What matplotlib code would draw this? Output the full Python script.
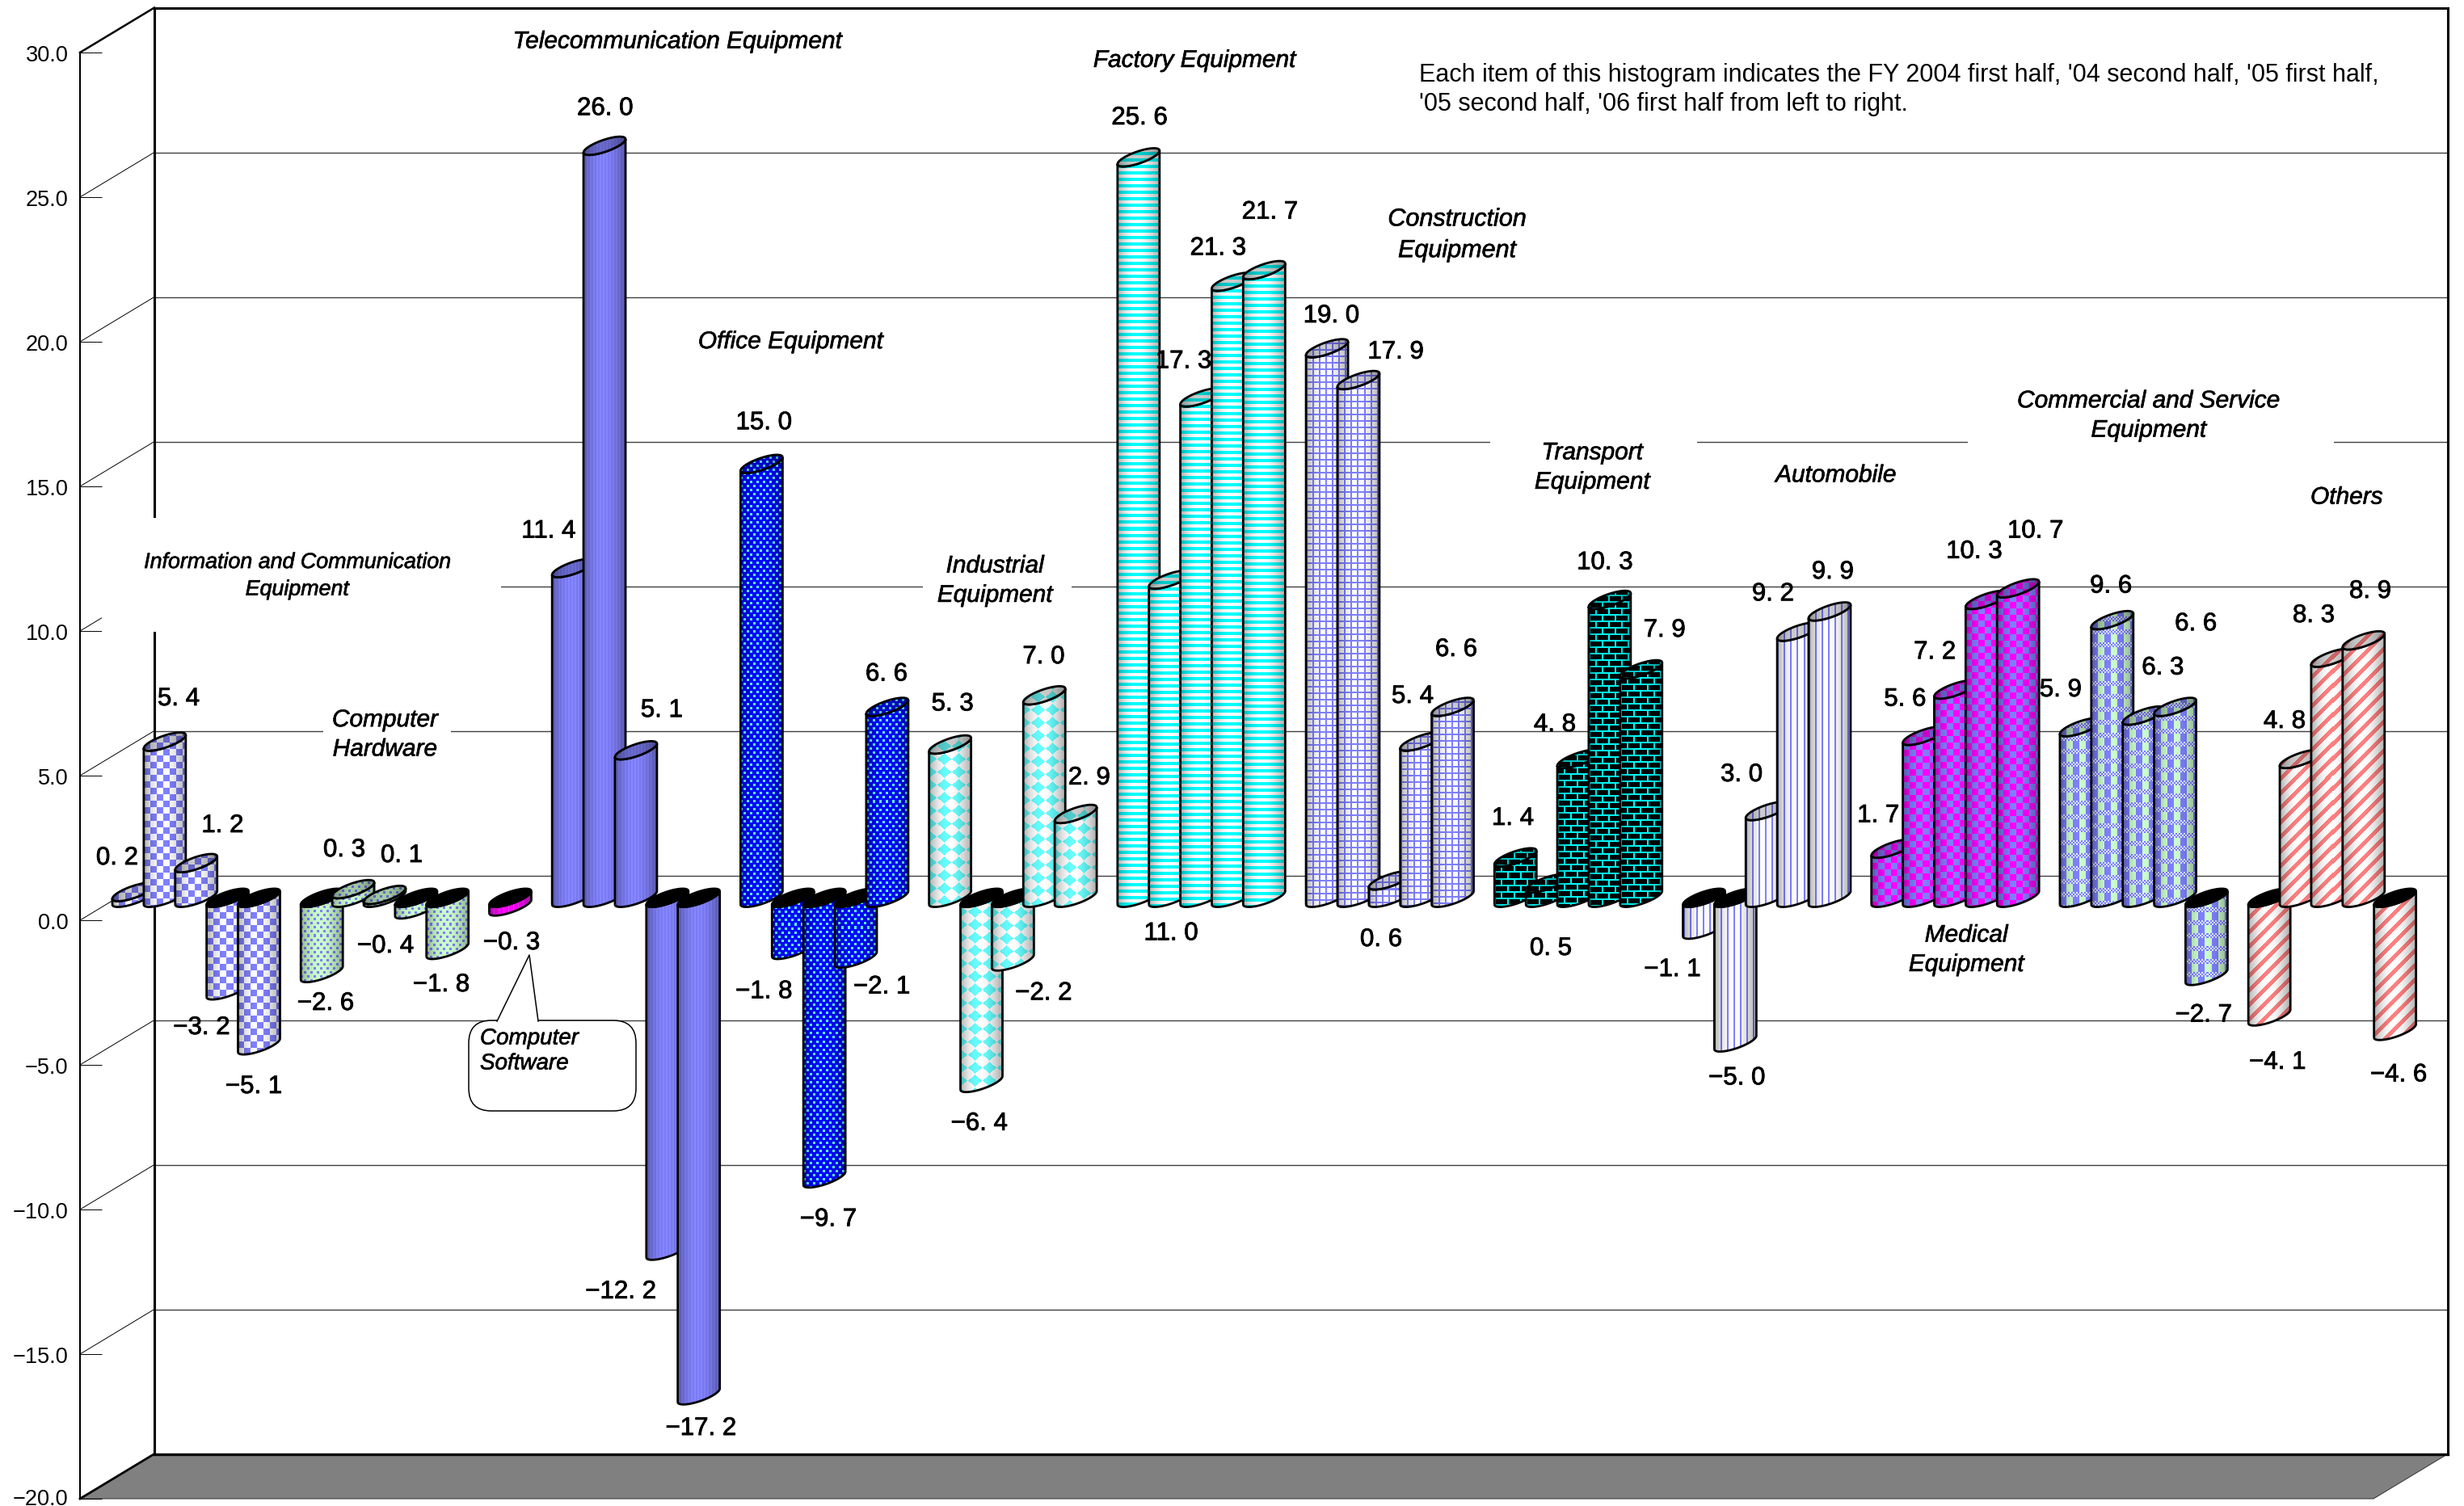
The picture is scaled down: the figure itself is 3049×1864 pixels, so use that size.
import numpy as np
import matplotlib
matplotlib.use("Agg")
import matplotlib.pyplot as plt
import matplotlib.patheffects as pe
from matplotlib.path import Path
from matplotlib.patches import PathPatch, Rectangle, Polygon, FancyBboxPatch
from matplotlib.transforms import Affine2D
from matplotlib.ticker import FuncFormatter

# ---------- data ----------
info_values = [0.2, 5.4, 1.2, -3.2, -5.1]
hardware_values = [-2.6, 0.3, 0.1, -0.4, -1.8]
software_values = [-0.3]
telecom_values = [11.4, 26.0, 5.1, -12.2, -17.2]
office_values = [15.0, -1.8, -9.7, -2.1, 6.6]
industrial_values = [5.3, -6.4, -2.2, 7.0, 2.9]
factory_values = [25.6, 11.0, 17.3, 21.3, 21.7]
construction_values = [19.0, 17.9, 0.6, 5.4, 6.6]
transport_values = [1.4, 0.5, 4.8, 10.3, 7.9]
automobile_values = [-1.1, -5.0, 3.0, 9.2, 9.9]
medical_values = [1.7, 5.6, 7.2, 10.3, 10.7]
commercial_values = [5.9, 9.6, 6.3, 6.6, -2.7]
others_values = [-4.1, 4.8, 8.3, 8.9, -4.6]

y_ticks = [-20, -15, -10, -5, 0, 5, 10, 15, 20, 25, 30]
note_text = ("Each item of this histogram indicates the FY 2004 first half, '04 second half, '05 first half,\n"
             "'05 second half, '06 first half from left to right.")

# ---------- layout (pixels of the 3049x1865 canvas) ----------
W, H = 3049, 1865
FRONT_L, BACK_L, BACK_R = 99.0, 191.0, 3029.0
Y_TOP, Y_BOT = 66.0, 1856.0
SLOT0, PITCH, BAR_W = 139.0, 38.87, 52.0
PX_UNIT = (Y_BOT - Y_TOP) / 50.0
DEPTH_X, DEPTH_Y = BACK_L - FRONT_L, 55.5
ELL_B, ELL_C = 8.3, 7.7
pxt = Affine2D().scale(1, -1).translate(0, H)
heavy = [pe.withStroke(linewidth=0.6, foreground="black")]
heavy_cap = [pe.withStroke(linewidth=0.45, foreground="black")]

fig = plt.figure(figsize=(W / 100, H / 100), dpi=100, facecolor="white")
ax = fig.add_axes([FRONT_L / W, 1 - Y_BOT / H, (BACK_R - FRONT_L) / W, (Y_BOT - Y_TOP) / H])
ax.patch.set_alpha(0)
ax.set_autoscale_on(False)
ax.set_xlim((FRONT_L - SLOT0) / PITCH, (BACK_R - SLOT0) / PITCH)
ax.set_ylim(-20, 30)
for s in ("top", "right", "bottom"):
    ax.spines[s].set_visible(False)
ax.spines["left"].set_linewidth(1.5)
ax.xaxis.set_visible(False)
ax.set_yticks(y_ticks)
ax.yaxis.set_major_formatter(FuncFormatter(lambda v, _: f"{v:.1f}".replace("-", "\u2212")))
ax.tick_params(axis="y", direction="in", length=19.4, width=0.7, pad=10.5, labelsize=19.5)
for lab in ax.get_yticklabels():
    lab.set_fontfamily("Liberation Sans")
first_tick = ax.yaxis.get_major_ticks()[0]
first_tick.label1.set_transform(first_tick.label1.get_transform() + Affine2D().translate(0, 3))

xmin = ax.get_xlim()[0]
dx_u = DEPTH_X / PITCH
dy_u = DEPTH_Y / PX_UNIT
xb_l, xb_r = xmin + dx_u, ax.get_xlim()[1]

# floor
ax.add_patch(Polygon([(xmin, -20), (xb_l, -20 + dy_u), (xb_r, -20 + dy_u), (xb_r - dx_u, -20)],
                     closed=True, fc="#808080", ec="#303030", lw=0.7, zorder=1, clip_on=False))
ax.plot([xmin, xb_l], [-20, -20 + dy_u], color="black", lw=2.0, zorder=2, clip_on=False)
# back wall grid
for t in y_ticks[1:-1]:
    ax.plot([xb_l, xb_r], [t + dy_u, t + dy_u], color="#404040", lw=1.0, zorder=2, clip_on=False)
for t in y_ticks[1:]:
    ax.plot([xmin, xb_l], [t, t + dy_u], color="black", lw=0.7 if t < 30 else 1.8, zorder=2, clip_on=False)
ax.plot([xb_l, xb_r], [30 + dy_u] * 2, color="black", lw=2.2, zorder=2, clip_on=False)
ax.plot([xb_l, xb_r], [-20 + dy_u] * 2, color="black", lw=2.4, zorder=2, clip_on=False)
ax.plot([xb_l, xb_l], [-20 + dy_u, 30 + dy_u], color="black", lw=2.2, zorder=2, clip_on=False)
ax.plot([xb_r, xb_r], [-20 + dy_u, 30 + dy_u], color="black", lw=2.2, zorder=2, clip_on=False)

# white boxes behind the category captions
white_boxes = [(126, 642, 620, 783), (400, 880, 558, 960), (1142, 690, 1326, 760),
               (1844, 520, 2100, 620), (2435, 480, 2888, 570)]
for x0, y0, x1, y1 in white_boxes:
    ax.add_patch(Rectangle((x0, y0), x1 - x0, y1 - y0, transform=pxt, fc="white", ec="none", zorder=3, clip_on=False))


# ---------- textures ----------
def rgb(h):
    return np.array(matplotlib.colors.to_rgb(h))


BLUE, WHITE, CYAN, MAG = rgb("#8080FF"), rgb("#FFFFFF"), rgb("#00FFFF"), rgb("#FF00FF")
PALE, SALMON = rgb("#CCFFCC"), rgb("#FF8080")


def two(mask, fg, bg):
    return np.where(mask[..., None], fg, bg)


def t_check(X, Y):
    return two(((X // 8) + (Y // 8)) % 2 == 0, BLUE, WHITE)


def t_hard(X, Y):
    row = Y // 5
    return two(((X + 4 * (row % 2)) % 8 < 3) & (Y % 5 < 3), BLUE, PALE)


def t_soft(X, Y):
    return two(X % 6 < 1, rgb("#E040E0"), MAG)


def t_tele(X, Y):
    return two(X % 4 < 2, rgb("#8888FF"), rgb("#7C7CFA"))


def t_office(X, Y):
    row = Y // 5
    return two(((X + 4 * (row % 2)) % 8 < 3) & (Y % 5 < 3), rgb("#66FFFF"), rgb("#0000FF"))


def t_ind(X, Y):
    a = np.abs(((X + 9) % 18) - 9) / 9.0 + np.abs(((Y + 8) % 16) - 8) / 8.0
    return two(a < 0.92, rgb("#66FFFF"), WHITE)


def t_fact(X, Y):
    return two(Y % 8 < 4, CYAN, WHITE)


def t_cons(X, Y):
    return two((X % 8 < 2) | (Y % 8 < 2), BLUE, WHITE)


def t_trans(X, Y):
    row = Y // 8
    line = (Y % 8 < 2) | ((X + 8 * (row % 2)) % 16 < 2)
    return two(line, CYAN, rgb("#000000"))


def t_auto(X, Y):
    return two(X % 8 < 2, BLUE, WHITE)


def t_med(X, Y):
    return two(((X // 8) + (Y // 8)) % 2 == 0, MAG, BLUE)


def t_comm(X, Y):
    coarse = two(X % 16 < 8, BLUE, PALE)
    fine = two(((X // 2) + (Y // 2)) % 2 == 0, BLUE, rgb("#DDEEFF"))
    return np.where((Y % 16 < 10)[..., None], coarse, fine)


def t_others(X, Y):
    return two((X + Y) % 18 < 7, SALMON, WHITE)


def texture(fn, wpx, hpx):
    Y, X = np.mgrid[0:hpx, 0:wpx]
    img = fn(X, Y).astype(float)
    u = (np.arange(wpx) + 0.5) / wpx
    shade = 0.68 + 0.32 * np.sin(np.pi * u ** 0.9)
    return img * shade[None, :, None]


# ---------- cylinders ----------
groups = [
    (info_values, 0, t_check), (hardware_values, 6, t_hard), (software_values, 12, t_soft),
    (telecom_values, 14, t_tele), (office_values, 20, t_office), (industrial_values, 26, t_ind),
    (factory_values, 32, t_fact), (construction_values, 38, t_cons), (transport_values, 44, t_trans),
    (automobile_values, 50, t_auto), (medical_values, 56, t_med), (commercial_values, 62, t_comm),
    (others_values, 68, t_others),
]
w_u = BAR_W / PITCH
base = dy_u / 2.0
B_u, C_u = ELL_B / PX_UNIT, ELL_C / PX_UNIT
tt = np.linspace(0, 2 * np.pi, 73)


def ellipse_xy(cx, cy, t):
    return cx + w_u / 2 * np.cos(t), cy + B_u * np.cos(t) + C_u * np.sin(t)


z = 10
for values, start, fn in groups:
    for k, v in enumerate(values):
        x0 = start + k
        cx = x0 + w_u / 2
        top, bot = max(v, 0) + base, min(v, 0) + base
        xl, yl = ellipse_xy(cx, bot, np.linspace(np.pi, 2 * np.pi, 37))
        xu, yu = ellipse_xy(cx, top, np.linspace(0, -np.pi, 37))
        verts = np.r_[np.c_[xl, yl], np.c_[xu, yu]]
        pad = 14 / PX_UNIT
        hpx = int(round((top - bot) * PX_UNIT + 28))
        tex = texture(fn, int(BAR_W), max(hpx, 2))
        ext = (x0, x0 + w_u, bot - pad, top + pad)
        body = PathPatch(Path(np.r_[verts, verts[:1]]), fc="none", ec="black", lw=2.0, zorder=z + 0.2)
        ax.add_patch(body)
        body.set_clip_on(False)
        im = ax.imshow(tex, extent=ext, aspect="auto", origin="upper", interpolation="nearest", zorder=z)
        im.set_clip_path(body)
        im.set_clip_box(fig.bbox)
        ex, ey = ellipse_xy(cx, top, tt)
        cap = PathPatch(Path(np.c_[ex, ey]), fc="black" if v < 0 else "none", ec="black", lw=2.0, zorder=z + 0.4)
        ax.add_patch(cap)
        cap.set_clip_on(False)
        if v >= 0:
            im2 = ax.imshow(tex * 0.8, extent=ext, aspect="auto", origin="upper", interpolation="nearest", zorder=z + 0.3)
            im2.set_clip_path(cap)
            im2.set_clip_box(fig.bbox)
        z += 1
ax.set_xlim((FRONT_L - SLOT0) / PITCH, (BACK_R - SLOT0) / PITCH)
ax.set_ylim(-20, 30)

# ---------- value labels ----------
S = 1.945
label_px = {
    0: [(145, 1060), (221, 863), (275.5, 1020), (249.5, 1270), (314, 1343)],
    6: [(403, 1240), (426, 1050), (497, 1057), (477, 1169), (546, 1217)],
    12: [(633, 1165)],
    14: [(349 * S, 337 * S), (385 * S, 68 * S), (421 * S, 451 * S), (395 * S, 821 * S), (446 * S, 908 * S)],
    20: [(486 * S, 268 * S), (486 * S, 630 * S), (527 * S, 775 * S), (561 * S, 627 * S), (564 * S, 428 * S)],
    26: [(606 * S, 447 * S), (623 * S, 714 * S), (664 * S, 631 * S), (664 * S, 417 * S), (693 * S, 494 * S)],
    32: [(725 * S, 74 * S), (745 * S, 593 * S), (753 * S, 229 * S), (775 * S, 157 * S), (808 * S, 134 * S)],
    38: [(847 * S, 200 * S), (888 * S, 223 * S), (1709, 1161), (1748, 860), (1802, 802)],
    44: [(1872, 1011), (1919, 1172), (1924, 895), (1021 * S, 357 * S), (1059 * S, 400 * S)],
    50: [(1064 * S, 616 * S), (1105 * S, 685 * S), (1108 * S, 492 * S), (1128 * S, 377 * S), (1166 * S, 363 * S)],
    56: [(1195 * S, 518 * S), (1212 * S, 444 * S), (1231 * S, 414 * S), (1256 * S, 350 * S), (1295 * S, 337 * S)],
    62: [(1311 * S, 438 * S), (1343 * S, 372 * S), (1376 * S, 424 * S), (1397 * S, 396 * S), (1402 * S, 645 * S)],
    68: [(1449 * S, 675 * S), (2827, 891), (2863, 760), (2933, 730), (1526 * S, 683 * S)],
}
for values, start, fn in groups:
    for v, (px, py) in zip(values, label_px[start]):
        s = f"{v:.1f}".replace(".", ". ").replace("-", "\u2212")
        ax.text(px, py + 3, s, transform=pxt, ha="center", va="center", fontsize=22.5,
                family="Liberation Sans", zorder=300, clip_on=False, path_effects=heavy)

# ---------- category captions ----------
captions = [
    ("Information and Communication\nEquipment", 189, 366, 19.3),
    ("Computer\nHardware", 245, 467, 21.5),
    ("Telecommunication Equipment", 431, 26, 21.5),
    ("Office Equipment", 503, 217, 21.5),
    ("Industrial\nEquipment", 633, 369, 21.5),
    ("Factory Equipment", 760, 38, 21.5),
    ("Construction\nEquipment", 927, 149, 22),
    ("Transport\nEquipment", 1013, 297, 21.5),
    ("Automobile", 1168, 302, 21.5),
    ("Medical\nEquipment", 1251, 604, 21.5),
    ("Commercial and Service\nEquipment", 1367, 264, 21.5),
    ("Others", 1493, 316, 21.5),
]
for s, px, py, fs in captions:
    ax.text(px * S, py * S + 2, s, transform=pxt, ha="center", va="center", ma="center", fontsize=fs,
            style="italic", family="Liberation Sans", zorder=300, clip_on=False, linespacing=1.38,
            path_effects=heavy_cap)

# callout for Computer Software
callout = FancyBboxPatch((590, 1274), 187, 92, boxstyle="round,pad=10,rounding_size=28", transform=pxt,
                         fc="white", ec="black", lw=1.1, zorder=280, clip_on=False)
ax.add_patch(callout)
ax.add_patch(Polygon([(615, 1265), (655, 1183), (666, 1265)], closed=True, transform=pxt, fc="white",
                     ec="none", zorder=281, clip_on=False))
ax.plot([615, 655, 666], [1265, 1183, 1265], transform=pxt, color="black", lw=1.1, zorder=282, clip_on=False)
ax.text(594, 1302, "Computer\nSoftware", transform=pxt, ha="left", va="center", fontsize=20, style="italic",
        family="Liberation Sans", zorder=300, clip_on=False, linespacing=1.25, path_effects=heavy_cap)

# note
ax.text(1756, 111, note_text, transform=pxt, ha="left", va="center", fontsize=22,
        family="Liberation Sans", zorder=300, clip_on=False, linespacing=1.22)

fig.savefig("out.png", dpi=100, facecolor="white")
